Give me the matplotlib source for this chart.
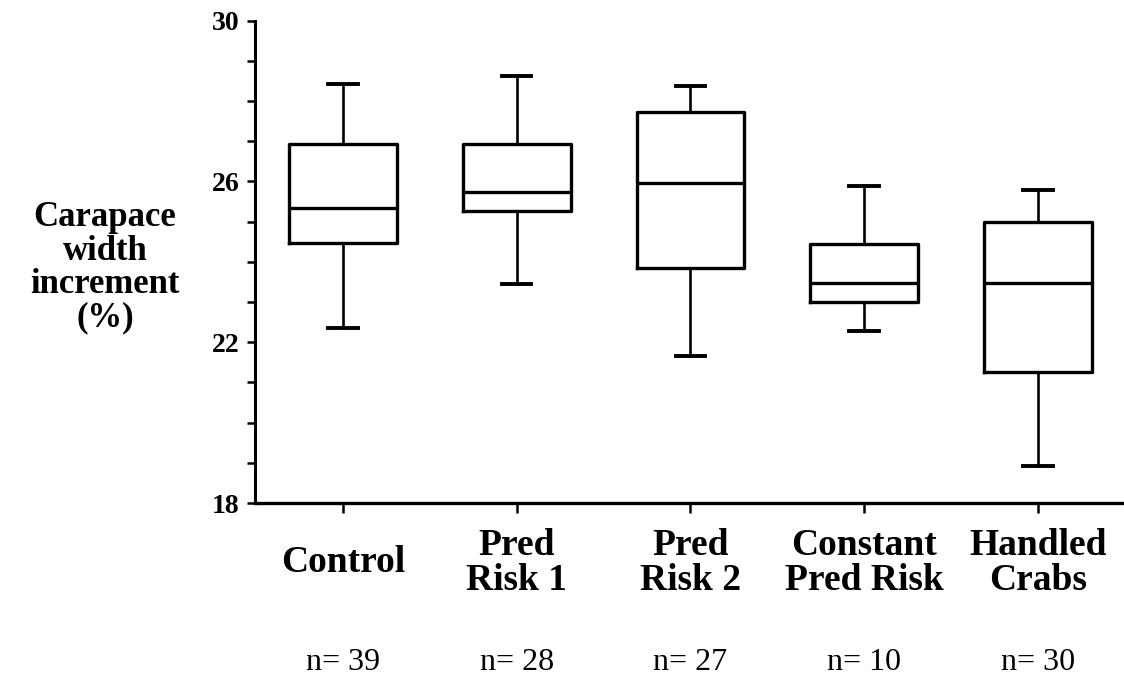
import matplotlib
matplotlib.use("Agg")
import matplotlib.pyplot as plt

# Group names and sample sizes
groups = ["Control", "Pred\nRisk 1", "Pred\nRisk 2", "Constant\nPred Risk", "Handled\nCrabs"]
n_counts = [39, 28, 27, 10, 30]

# Box statistics (%)
whisker_low = [22.36, 23.44, 21.67, 22.28, 18.91]
q1 = [24.46, 25.27, 23.86, 23.01, 21.27]
medians = [25.33, 25.73, 25.96, 23.47, 23.48]
q3 = [26.93, 26.92, 27.73, 24.44, 25.00]
whisker_high = [28.42, 28.63, 28.38, 25.89, 25.79]

plt.rcParams['font.family'] = ['Liberation Serif', 'DejaVu Serif']

fig = plt.figure(figsize=(11.24, 6.78), dpi=100)
ax = fig.add_axes([0.227, 0.258, 0.772, 0.7115])

stats = []
for i in range(len(groups)):
    stats.append({
        "whislo": whisker_low[i], "q1": q1[i], "med": medians[i],
        "q3": q3[i], "whishi": whisker_high[i], "fliers": [],
    })

positions = list(range(1, len(groups) + 1))
ax.bxp(stats, positions=positions, widths=0.62, capwidths=0.17,
       showfliers=False,
       boxprops=dict(color="black", linewidth=2.4),
       medianprops=dict(color="black", linewidth=2.4),
       whiskerprops=dict(color="black", linewidth=1.9),
       capprops=dict(color="black", linewidth=2.8))

ax.set_xlim(0.494, 5.49)
ax.set_ylim(18, 30)

# y axis: labelled majors every 4, minor ticks every 1
ax.set_yticks([18, 22, 26, 30])
ax.set_yticks(range(18, 31), minor=True)
ax.tick_params(axis="y", which="both", direction="out", length=6, width=1.8,
               labelsize=20, pad=5)
for lab in ax.get_yticklabels():
    lab.set_fontweight("bold")

# x axis: group names as tick labels
ax.set_xticks(positions)
ax.set_xticklabels(groups, fontsize=27, fontweight="bold", linespacing=0.98)
ax.tick_params(axis="x", direction="out", length=7, width=1.8, pad=36)
for lab in ax.get_xticklabels():
    lab.set_verticalalignment("center")

for side in ["top", "right"]:
    ax.spines[side].set_visible(False)
ax.spines["left"].set_linewidth(2.2)
ax.spines["bottom"].set_linewidth(2.4)

# sample sizes under each group
for pos, n in zip(positions, n_counts):
    ax.text(pos, -0.33, f"n= {n}", transform=ax.get_xaxis_transform(),
            ha="center", va="center", fontsize=23)

fig.text(105 / 1124, 1 - 268 / 678, "Carapace\nwidth\nincrement\n(%)",
         ha="center", va="center", fontsize=25, fontweight="bold",
         linespacing=1.02)

fig.savefig("out.png", dpi=100)
